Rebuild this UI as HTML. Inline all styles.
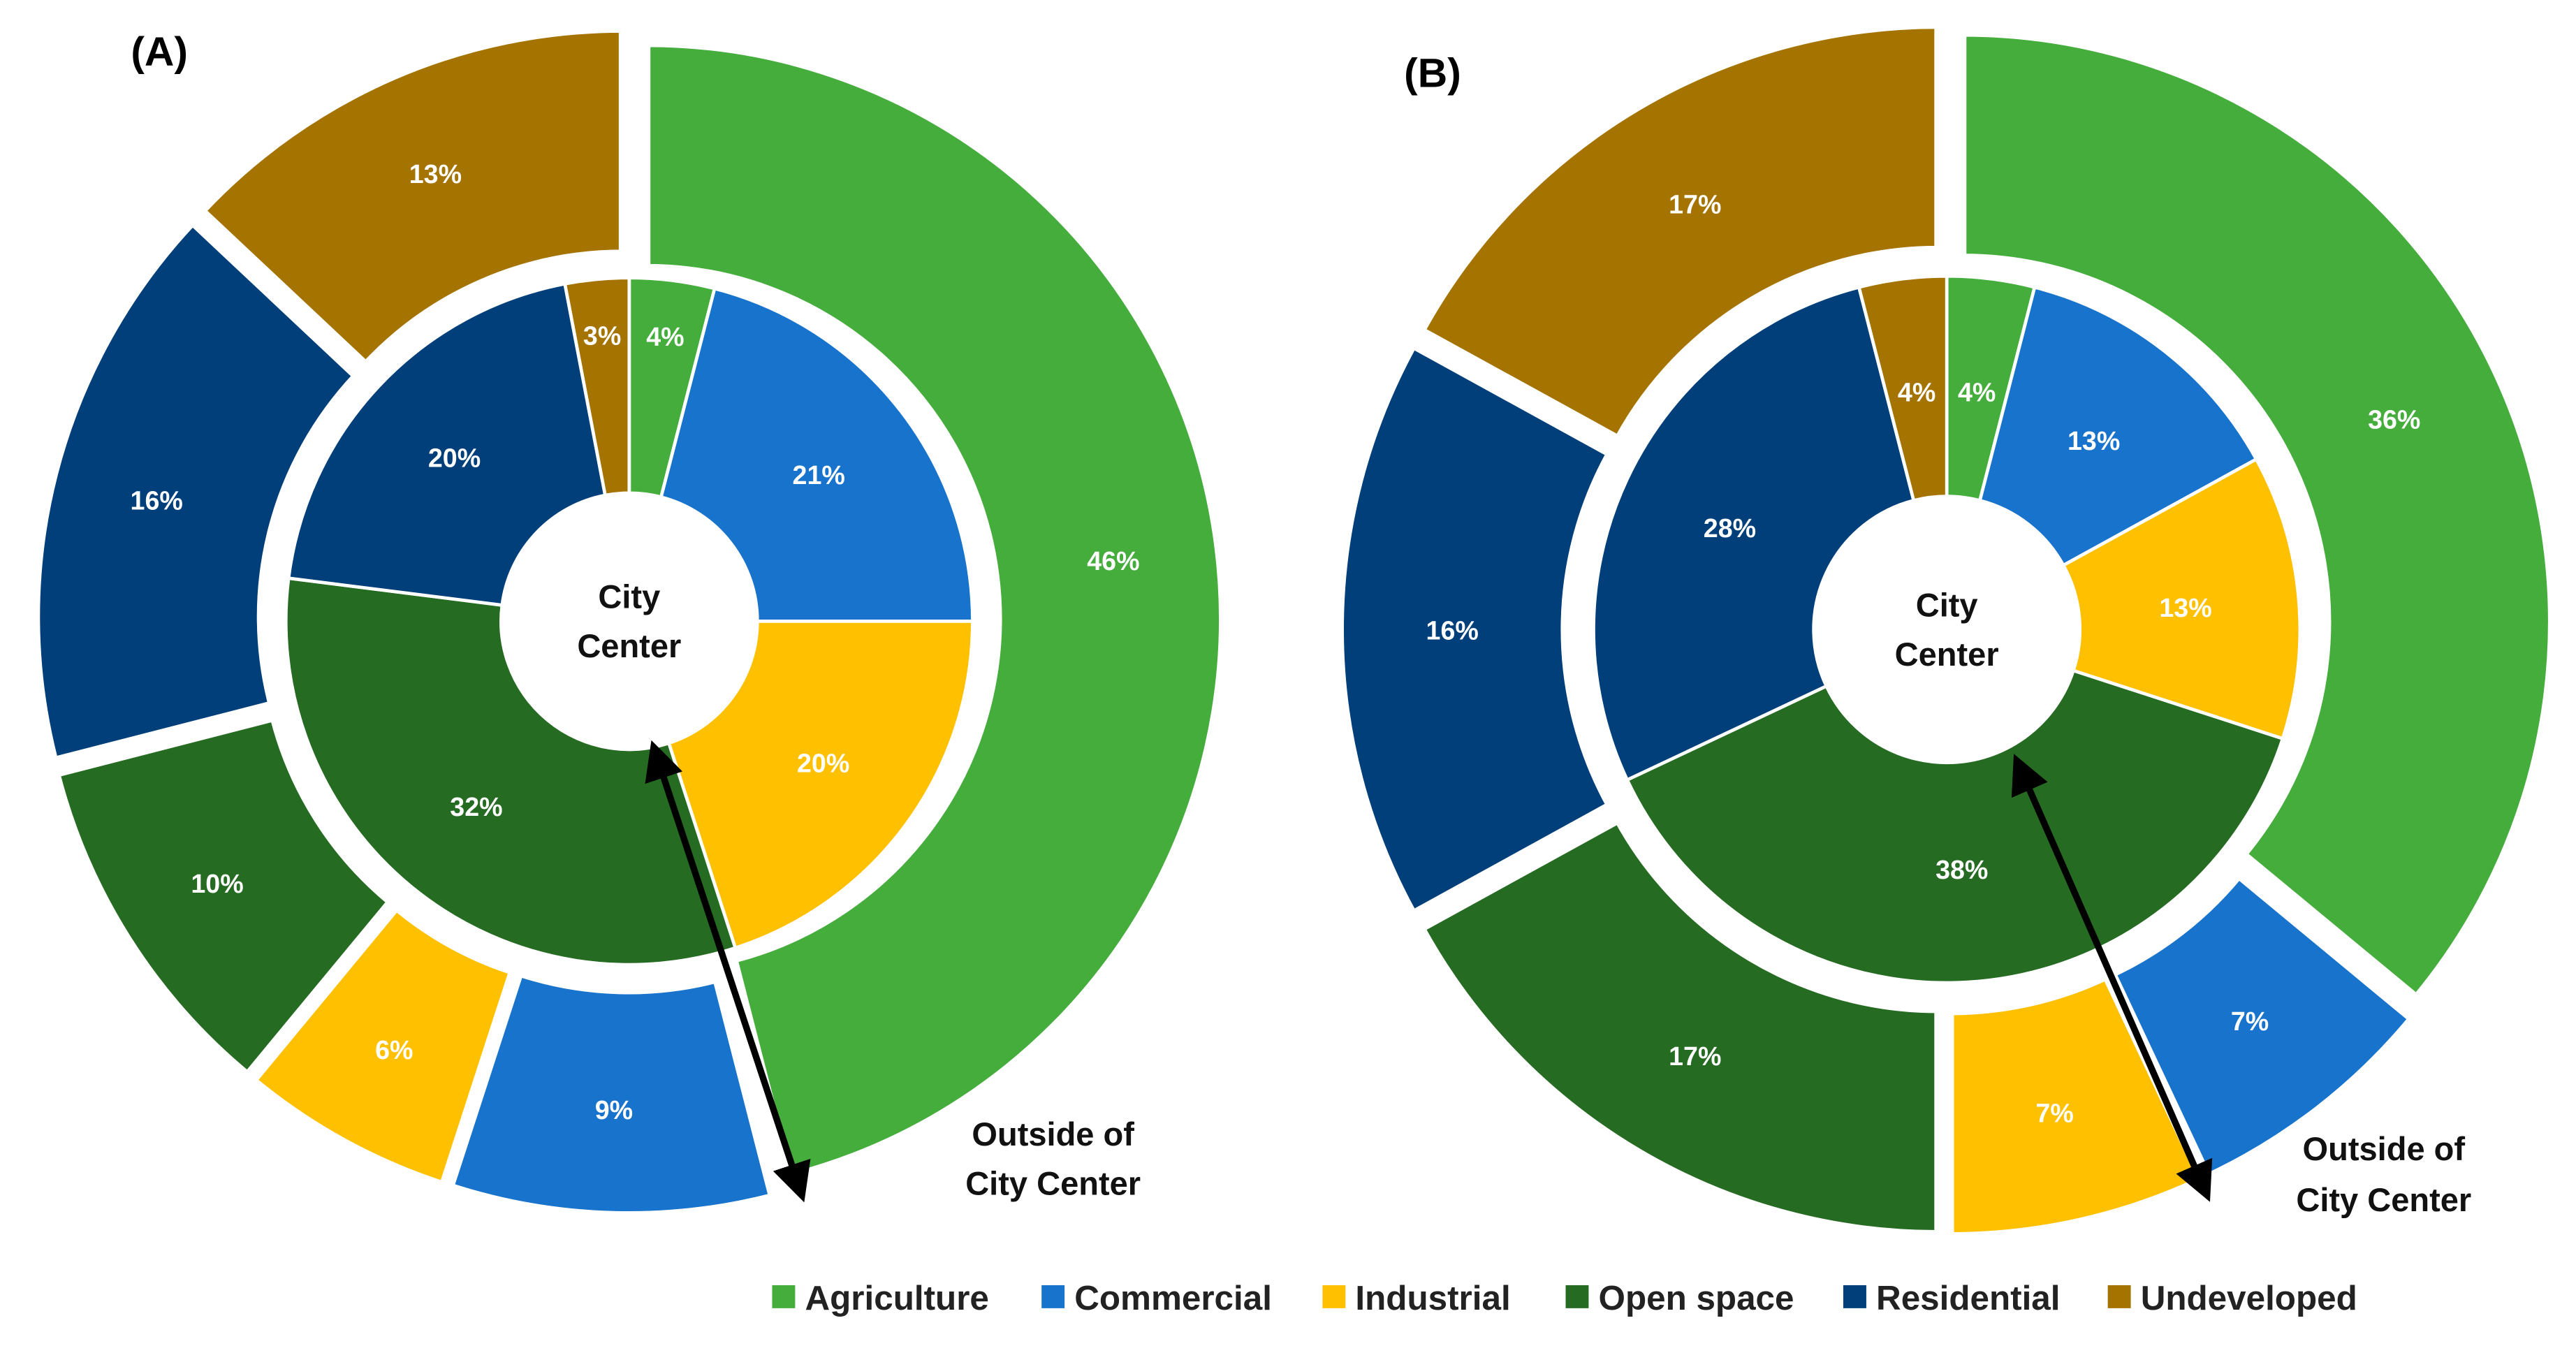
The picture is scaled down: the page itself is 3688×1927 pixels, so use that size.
<!DOCTYPE html>
<html><head><meta charset="utf-8"><style>
html,body{margin:0;padding:0;background:#fff;}
svg{display:block;font-family:"Liberation Sans",Arial,sans-serif;}
</style></head><body>
<svg id="chart" width="3688" height="1927" viewBox="0 0 1568 819" preserveAspectRatio="none" xmlns="http://www.w3.org/2000/svg">
<defs>
<marker id="ah" markerWidth="6" markerHeight="6" refX="4" refY="3" orient="auto-start-reverse" markerUnits="strokeWidth"><path d="M0,0 L6,3 L0,6 z" fill="#000"/></marker>
</defs>
<g id="charts"></g>
<text x="97" y="40" font-size="25" font-weight="bold" text-anchor="middle">(A)</text>
<text x="872" y="53" font-size="25" font-weight="bold" text-anchor="middle">(B)</text>
<line x1="399" y1="458" x2="487" y2="724" stroke="#000" stroke-width="4" marker-start="url(#ah)" marker-end="url(#ah)"/>
<line x1="1229" y1="466" x2="1342" y2="724" stroke="#000" stroke-width="4" marker-start="url(#ah)" marker-end="url(#ah)"/>
<g font-size="20" font-weight="bold" text-anchor="middle" fill="#111">
<text x="641" y="697">Outside of</text>
<text x="641" y="727">City Center</text>
<text x="1451" y="706">Outside of</text>
<text x="1451" y="737">City Center</text>
</g>
<g id="legend"></g>
</svg>
<script>
const categories = ["Agriculture","Commercial","Industrial","Open space","Residential","Undeveloped"];
const colors = ["#45ad3c","#1873cc","#ffc000","#256b22","#003f7a","#a57300"];
const innerA = [4,21,20,32,20,3];
const outerA = [46,9,6,10,16,13];
const innerB = [4,13,13,38,28,4];
const outerB = [36,7,7,17,16,17];
const NS = "http://www.w3.org/2000/svg";
const root = document.getElementById("charts");

function arcPath(cx,cy,r0,r1,a0,a1){
  const p=(r,a)=>[cx+r*Math.sin(a),cy-r*Math.cos(a)];
  const large=(a1-a0)>Math.PI?1:0;
  const [x0,y0]=p(r1,a0),[x1,y1]=p(r1,a1),[x2,y2]=p(r0,a1),[x3,y3]=p(r0,a0);
  return `M${x0},${y0} A${r1},${r1} 0 ${large} 1 ${x1},${y1} L${x2},${y2} A${r0},${r0} 0 ${large} 0 ${x3},${y3} Z`;
}
function ring(id,cx,cy,vals,r0,r1,off,labR,gap,smallR){
  const total=vals.reduce((a,b)=>a+b,0);
  let acc=0;
  vals.forEach((v,i)=>{
    const a0=acc/total*2*Math.PI, a1=(acc+v)/total*2*Math.PI; acc+=v;
    const mid=(a0+a1)/2;
    const ox=off*Math.sin(mid), oy=-off*Math.cos(mid);
    const path=document.createElementNS(NS,"path");
    path.setAttribute("d",arcPath(cx+ox,cy+oy,r0,r1,a0,a1));
    path.setAttribute("fill",colors[i]);
    path.setAttribute("stroke","#fff");
    path.setAttribute("stroke-width",gap);
    
    
    root.appendChild(path);
    const lr=(smallR && v<5)?smallR:labR;
    const t=document.createElementNS(NS,"text");
    t.setAttribute("x",cx+ox+lr*Math.sin(mid));
    t.setAttribute("y",cy+oy-lr*Math.cos(mid)+6);
    t.setAttribute("fill","#fff");t.setAttribute("font-size","16");t.setAttribute("font-weight","bold");t.setAttribute("text-anchor","middle");
    t.textContent=v+"%";
    
    
    root.appendChild(t);
  });
}
function center(id,cx,cy,r){
  const c=document.createElementNS(NS,"circle");
  c.setAttribute("cx",cx);c.setAttribute("cy",cy);c.setAttribute("r",r);c.setAttribute("fill","#fff");
  
  
  root.appendChild(c);
  ["City","Center"].forEach((s,k)=>{
    const t=document.createElementNS(NS,"text");
    t.setAttribute("x",cx);t.setAttribute("y",cy-8+k*30);t.setAttribute("font-size","20");t.setAttribute("font-weight","bold");t.setAttribute("text-anchor","middle");t.setAttribute("fill","#111");
    t.textContent=s;
    
    
    root.appendChild(t);
  });
}
ring("outer-a",383,378,outerA,214,350,11,286,4,0);
ring("inner-a",383,378,innerA,78,209,0,146,2,175);
center("chart-a",383,378,78);
ring("outer-b",1185,383,outerB,222,358,11,290,4,0);
ring("inner-b",1185,383,innerB,81,215,0,146,2,0);
center("chart-b",1185,383,81);

const legX=[470,634,805,953,1122,1283];
const lg=document.getElementById("legend");
categories.forEach((c,i)=>{
  const r=document.createElementNS(NS,"rect");
  r.setAttribute("x",legX[i]);r.setAttribute("y",782);r.setAttribute("width",14);r.setAttribute("height",14);r.setAttribute("fill",colors[i]);
  
  
  lg.appendChild(r);
  const t=document.createElementNS(NS,"text");
  t.setAttribute("x",legX[i]+20);t.setAttribute("y",797);t.setAttribute("font-size","21");t.setAttribute("font-weight","bold");t.setAttribute("fill","#222");
  t.textContent=c;
  
  
  lg.appendChild(t);
});
</script>
</body></html>
